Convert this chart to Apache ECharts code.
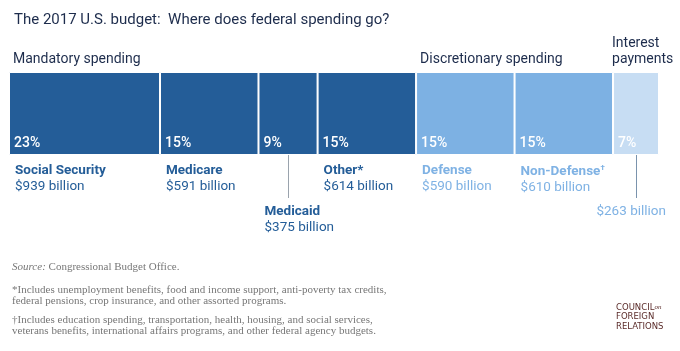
<!DOCTYPE html>
<html>
<head>
<meta charset="utf-8">
<script src="https://cdn.jsdelivr.net/npm/echarts@6/dist/echarts.min.js"></script>
<style>
  html, body { margin: 0; padding: 0; background: #fff; }
  #main { width: 680px; height: 351px; }
</style>
</head>
<body>
<div id="main"></div>
<script>
// 数据
var categories = ['Social Security', 'Medicare', 'Medicaid', 'Other*', 'Defense', 'Non-Defense', 'Interest payments'];
var marks = ['', '', '', '', '', '\u2020', ''];     // footnote marks
var shares = [23, 15, 9, 15, 15, 15, 7];           // % of total, sets bar width
var amounts = [939, 591, 375, 614, 590, 610, 263];  // $ billion
var groups = ['Mandatory spending', 'Mandatory spending', 'Mandatory spending', 'Mandatory spending',
  'Discretionary spending', 'Discretionary spending', 'Interest\npayments'];

var colorByGroup = {
  'Mandatory spending': '#245d98',
  'Discretionary spending': '#7db1e3',
  'Interest\npayments': '#c7ddf3'
};
var textByGroup = {
  'Mandatory spending': '#245d98',
  'Discretionary spending': '#7fb2e4',
  'Interest\npayments': '#7fb2e4'
};

var SANS = 'Roboto, sans-serif';
var SERIF = '"Liberation Serif", "DejaVu Serif", serif';
var gridTop = 72, gridH = 83, gridLeft = 9, gridW = 650;

var myChart = echarts.init(document.getElementById('main'));

var total = shares.reduce(function (a, b) { return a + b; }, 0);

var series = categories.map(function (name, i) {
  return {
    name: name,
    type: 'bar',
    stack: 'budget',
    barWidth: gridH,
    silent: true,
    itemStyle: {
      color: colorByGroup[groups[i]],
      borderColor: '#fff',
      borderWidth: 1
    },
    label: {
      show: true,
      position: 'insideBottomLeft',
      distance: 5,
      color: '#fff',
      fontFamily: SANS,
      fontSize: 14,
      fontWeight: 500,
      formatter: shares[i] + '%'
    },
    data: [shares[i]]
  };
});

option = {
  animation: false,
  grid: { left: gridLeft, top: gridTop, width: gridW, height: gridH },
  xAxis: { type: 'value', min: 0, max: total, show: false },
  yAxis: { type: 'category', data: ['2017'], show: false },
  title: {
    text: 'The 2017 U.S. budget:  Where does federal spending go?',
    left: 9, top: 8,
    textStyle: { fontFamily: SANS, fontSize: 15, fontWeight: 400, color: '#1d2c4c' }
  },
  series: series
};
myChart.setOption(option);

// 标注：组标题、分类名、金额、引线
var graphics = [];
var seenGroup = {};
var cum = 0;
var lowered = { 2: true, 6: true };
categories.forEach(function (name, i) {
  var x0 = myChart.convertToPixel({ xAxisIndex: 0 }, cum);
  var x1 = myChart.convertToPixel({ xAxisIndex: 0 }, cum + shares[i]);
  var xm = (x0 + x1) / 2;
  var bottom = gridTop + gridH;
  var g = groups[i];
  if (!seenGroup[g]) {
    seenGroup[g] = true;
    var multi = g.indexOf('\n') >= 0;
    graphics.push({
      type: 'text', left: x0 + (multi ? -1 : 4), top: multi ? 35 : 51,
      style: { text: g, fontFamily: SANS, fontSize: 14, lineHeight: 16, fill: '#1d2c4c' }
    });
  }
  var col = textByGroup[g];
  var ty = lowered[i] ? 205 : 164;
  if (lowered[i]) {
    graphics.push({
      type: 'line',
      shape: { x1: Math.round(xm) + 0.5, y1: bottom, x2: Math.round(xm) + 0.5, y2: 198 },
      style: { stroke: i === 2 ? '#9aa3ad' : '#7a93ad', lineWidth: 1 }
    });
  }
  var money = '$' + amounts[i] + ' billion';
  if (i === 6) {
    graphics.push({
      type: 'text', right: 680 - 666, top: ty,
      style: { text: money, fontFamily: SANS, fontSize: 13.5, fill: col, align: 'right' }
    });
  } else {
    var head = '{b|' + name + '}' + (marks[i] ? '{s|' + marks[i] + '}' : '');
    graphics.push({
      type: 'text', left: x0 + 6, top: ty,
      style: {
        text: head + '\n{v|' + money + '}',
        rich: {
          b: { fontFamily: SANS, fontSize: 13.5, fontWeight: 'bold', fill: col, lineHeight: 16 },
          s: { fontFamily: SANS, fontSize: 8, fontWeight: 'bold', fill: col, lineHeight: 16, verticalAlign: 'top' },
          v: { fontFamily: SANS, fontSize: 13.5, fill: col, lineHeight: 16 }
        }
      }
    });
  }
  cum += shares[i];
});

// 脚注
var notes = [
  { y: 261, text: '{i|Source:} Congressional Budget Office.' },
  { y: 284, text: '*Includes unemployment benefits, food and income support, anti-poverty tax credits,\nfederal pensions, crop insurance, and other assorted programs.' },
  { y: 314, text: '\u2020Includes education spending, transportation, health, housing, and social services,\nveterans benefits, international affairs programs, and other federal agency budgets.' }
];
notes.forEach(function (n) {
  graphics.push({
    type: 'text', left: 12, top: n.y,
    style: {
      text: n.text, fontFamily: SERIF, fontSize: 11, lineHeight: 11.5, fill: '#777',
      rich: { i: { fontFamily: SERIF, fontSize: 11, fontStyle: 'italic', fill: '#777' } }
    }
  });
});

// 标志
graphics.push({
  type: 'text', left: 616, top: 303,
  style: {
    text: '{a|COUNCIL}{o|on}\n{a|FOREIGN}\n{a|RELATIONS}',
    rich: {
      a: { fontFamily: '"DejaVu Sans", sans-serif', fontSize: 8.5, fontWeight: 'normal', fill: '#5b2c2a', lineHeight: 9.6 },
      o: { fontFamily: SERIF, fontSize: 7, fontStyle: 'italic', fill: '#5b2c2a', lineHeight: 9.6 }
    }
  }
});

myChart.setOption({ graphic: graphics });
</script>
</body>
</html>
